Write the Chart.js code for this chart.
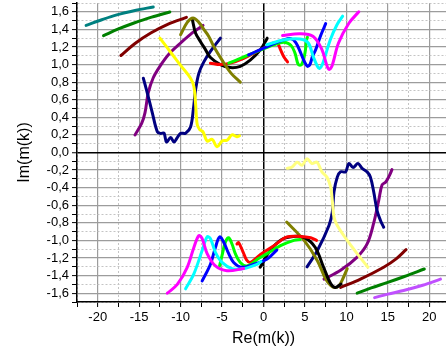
<!DOCTYPE html>
<html><head><meta charset="utf-8">
<script src="https://cdn.jsdelivr.net/npm/chart.js@4/dist/chart.umd.min.js"></script>
<style>html,body{margin:0;padding:0;overflow:hidden;background:#fff;}canvas{display:block;}</style>
</head><body>
<canvas id="c" width="450" height="354"></canvas>
<script>
// ---- axis ranges / titles ----
const xTitle = 'Re(m(k))';
const yTitle = 'Im(m(k))';
const xRange = [-22.5, 22.5];
const yRange = [-1.7, 1.7];

// ---- upper half-plane curves [Re, Im] ----
const tealTop = [[-21.4,1.445],[-19.5,1.51],[-17.7,1.565],[-15.5,1.615],[-13.3,1.655]];
const greenTop = [[-19.3,1.328],[-17.5,1.405],[-15.7,1.47],[-13.5,1.54],[-11.3,1.598]];
const darkRedTop = [[-17.2,1.103],[-15.5,1.24],[-13.6,1.358],[-11.5,1.46],[-9.3,1.537]];
const purpleTop = [[-15.5,0.2],[-14.7,0.33],[-14.3,0.45],[-13.9,0.68],[-13.3,0.85],[-12.5,0.98],[-11.4,1.12],[-10.0,1.245],[-8.6,1.36],[-7.3,1.445]];
const navyTop = [[-14.5,0.845],[-14.0,0.67],[-13.4,0.445],[-12.8,0.235],[-12.4,0.217],[-12.0,0.22],[-11.7,0.12],[-11.2,0.17],[-10.8,0.12],[-10.4,0.17],[-10.0,0.217],[-9.4,0.22],[-8.8,0.29],[-8.45,0.5],[-8.2,0.71],[-7.8,0.9],[-7.2,1.03],[-6.4,1.15],[-5.2,1.30]];
const yellowTop = [[-12.5,1.30],[-11.2,1.14],[-10.0,0.99],[-8.8,0.845],[-8.4,0.75],[-8.2,0.56],[-8.0,0.32],[-7.7,0.26],[-7.3,0.235],[-6.8,0.13],[-6.2,0.15],[-5.6,0.065],[-5.0,0.13],[-4.4,0.14],[-3.8,0.2],[-3.2,0.18],[-2.9,0.19]];
const oliveTop = [[-10.0,1.34],[-9.2,1.48],[-8.5,1.53],[-7.8,1.48],[-7.2,1.40],[-6.6,1.32],[-6.0,1.205],[-5.0,1.05],[-3.9,0.9],[-2.8,0.80]];
const blackTop = [[-8.6,1.52],[-8.2,1.36],[-7.6,1.26],[-7.0,1.17],[-6.4,1.08],[-5.2,1.0],[-4.0,0.966],[-2.8,0.98],[-1.6,1.05],[-0.36,1.17],[0.45,1.30]];
const redTop = [[-6.4,1.016],[-5.2,1.0],[-4.0,1.016],[-2.4,1.07],[-0.76,1.15],[0.45,1.205],[1.2,1.245],[1.7,1.24],[2.05,1.17],[2.45,1.09],[2.9,1.03]];
const limeTop = [[-4.2,1.016],[-2.8,1.07],[-0.76,1.15],[1.25,1.225],[2.45,1.255],[3.3,1.22],[3.8,1.13],[4.2,1.0],[4.6,1.0],[5.0,1.13],[5.2,1.28],[5.3,1.31]];
const blueTop = [[-1.8,1.11],[0.45,1.205],[2.45,1.28],[3.3,1.295],[3.9,1.25],[4.5,1.13],[4.9,1.04],[5.3,0.98],[5.6,1.0],[5.9,1.09],[6.3,1.17],[6.9,1.33],[7.5,1.465]];
const cyanTop = [[0.4,1.225],[2.4,1.28],[4.4,1.29],[5.4,1.245],[6.0,1.09],[6.5,0.98],[6.75,0.955],[7.1,1.0],[8.05,1.28],[8.85,1.45],[9.55,1.55]];
const magentaTop = [[2.3,1.33],[4.4,1.35],[6.0,1.32],[7.05,1.17],[7.6,1.0],[7.9,0.945],[8.25,0.98],[9.05,1.245],[10.3,1.47],[11.5,1.60]];

// ---- lower half-plane curves [Re, Im] ----
const violetBot = [[13.4,-1.65],[15.0,-1.61],[16.9,-1.57],[19.2,-1.51],[21.35,-1.44]];
const greenBot = [[11.3,-1.60],[13.0,-1.54],[14.9,-1.48],[17.0,-1.41],[19.4,-1.325]];
const darkRedBot = [[9.3,-1.535],[11.7,-1.44],[14.5,-1.305],[16.0,-1.21],[17.2,-1.105]];
const purpleBot = [[7.3,-1.44],[9.3,-1.34],[11.3,-1.19],[12.5,-1.04],[13.3,-0.80],[13.9,-0.545],[14.3,-0.37],[14.75,-0.335],[15.2,-0.26],[15.5,-0.195]];
const navyBot = [[5.25,-1.30],[6.5,-1.115],[7.9,-0.83],[8.3,-0.68],[8.5,-0.45],[8.9,-0.28],[9.3,-0.22],[9.9,-0.22],[10.3,-0.125],[10.8,-0.17],[11.4,-0.125],[11.9,-0.18],[12.5,-0.22],[12.9,-0.28],[13.3,-0.45],[13.7,-0.66],[14.1,-0.77],[14.5,-0.85]];
const yellowBot = [[2.85,-0.18],[3.45,-0.165],[4.05,-0.11],[4.65,-0.145],[5.25,-0.07],[5.85,-0.125],[6.45,-0.11],[7.05,-0.22],[7.65,-0.28],[8.1,-0.39],[8.3,-0.545],[8.5,-0.735],[8.9,-0.83],[10.1,-1.0],[11.3,-1.15],[12.6,-1.305]];
const oliveBot = [[2.8,-0.79],[4.9,-1.0],[6.5,-1.23],[7.5,-1.44],[8.1,-1.51],[8.6,-1.535],[9.1,-1.515],[9.6,-1.43],[10.1,-1.32]];
const blackBot = [[-0.4,-1.305],[0.8,-1.115],[2.2,-0.99],[3.6,-0.955],[5.0,-0.97],[6.25,-1.08],[7.25,-1.305],[8.05,-1.48],[8.65,-1.535],[9.35,-1.495]];
const redBot = [[-3.2,-1.04],[-3.0,-1.025],[-2.45,-1.135],[-2.05,-1.22],[-1.57,-1.25],[-0.36,-1.16],[1.25,-1.06],[2.85,-0.96],[4.45,-0.955],[5.7,-0.97],[6.4,-1.0]];
const limeBot = [[-5.3,-1.29],[-5.0,-1.17],[-4.6,-1.02],[-4.2,-0.97],[-3.8,-1.04],[-3.4,-1.15],[-2.8,-1.25],[-2.0,-1.29],[-0.5,-1.2],[0.45,-1.15],[2.05,-1.06],[3.66,-1.0],[4.4,-0.99]];
const blueBot = [[-7.4,-1.46],[-6.4,-1.27],[-5.8,-1.08],[-5.3,-0.96],[-4.8,-1.02],[-4.2,-1.15],[-3.6,-1.25],[-2.6,-1.305],[-1.17,-1.27],[0.45,-1.21],[1.6,-1.11]];
const cyanBot = [[-9.4,-1.55],[-8.4,-1.38],[-7.4,-1.115],[-6.8,-0.96],[-6.4,-0.98],[-5.8,-1.135],[-5.0,-1.25],[-3.8,-1.32],[-2.4,-1.32],[-0.76,-1.27],[-0.3,-1.24]];
const magentaBot = [[-11.6,-1.60],[-10.4,-1.50],[-9.2,-1.305],[-8.4,-1.08],[-7.8,-0.945],[-7.4,-0.98],[-6.8,-1.15],[-5.8,-1.29],[-4.4,-1.345],[-2.4,-1.32]];

// listed in drawing order (later = on top)
const series = [
  [tealTop,'#008080'],[greenTop,'#008000'],[darkRedTop,'#800000'],[purpleTop,'#800080'],
  [navyTop,'#000080'],[yellowTop,'#ffff00'],[blackTop,'#000000'],
  [redTop,'#ff0000'],[limeTop,'#00ff00'],[oliveTop,'#808000'],[blueTop,'#0000ff'],[cyanTop,'#00ffff'],[magentaTop,'#ff00ff'],
  [violetBot,'#c050ff'],[greenBot,'#008000'],[darkRedBot,'#800000'],[purpleBot,'#800080'],
  [navyBot,'#000080'],[yellowBot,'#ffff80'],[oliveBot,'#808000'],[blackBot,'#000000'],
  [redBot,'#ff0000'],[limeBot,'#00ff00'],[blueBot,'#0000ff'],[cyanBot,'#00ffff'],[magentaBot,'#ff00ff']
];

Chart.defaults.font.family = "'Liberation Sans', Arial, sans-serif";
Chart.defaults.color = '#000';

function isMajor(v, step){ const r = v/step; return Math.abs(r - Math.round(r)) < 1e-6; }
function gridColor(step){ return ctx => { if(!ctx.tick) return '#000'; const v = ctx.tick.value; if (Math.abs(v) < 1e-9) return '#000'; return isMajor(v, step) ? '#9c9c9c' : '#c4c4c4'; }; }
function gridWidth(step){ return ctx => { if(!ctx.tick) return 1; const v = ctx.tick.value; if (Math.abs(v) < 1e-9) return 1.5; return isMajor(v, step) ? 1.2 : 1; }; }
function gridDash(step){ return ctx => { if(!ctx.tick) return []; const v = ctx.tick.value; return (Math.abs(v) < 1e-9 || isMajor(v, step)) ? [] : [2,2]; }; }

new Chart(document.getElementById('c'), {
  type: 'scatter',
  data: { datasets: series.map(([pts, col], i) => ({
    data: pts.map(p => ({x: p[0], y: p[1]})),
    order: -i,
    showLine: true, borderColor: col, backgroundColor: col, borderWidth: 3,
    pointRadius: 0, tension: 0.35, fill: false, borderCapStyle: 'round', borderJoinStyle: 'round'
  })) },
  options: {
    responsive: false, animation: false,
    layout: { padding: { top: 3, right: 0, left: 0, bottom: 0 } },
    plugins: { legend: { display: false }, tooltip: { enabled: false } },
    scales: {
      x: {
        type: 'linear', min: xRange[0], max: xRange[1],
        ticks: { stepSize: 2.5, autoSkip: false, maxRotation: 0, font: { size: 13 }, padding: 3,
          callback: v => isMajor(v, 5) ? String(Math.round(v)) : '' },
        grid: { color: gridColor(5), lineWidth: gridWidth(5), tickColor: '#000', tickLength: 5, tickWidth: 1, tickBorderDash: [] },
        border: { display: true, color: '#000', width: 1.5, dash: gridDash(5) },
        title: { display: true, text: xTitle, font: { size: 16 }, padding: { top: 0, bottom: 6 } },
        afterFit: s => { s.height = 52; s.paddingLeft = 0; s.paddingRight = 0; }
      },
      y: {
        type: 'linear', min: yRange[0], max: yRange[1],
        ticks: { stepSize: 0.1, autoSkip: false, font: { size: 13 }, padding: 3,
          callback: v => { const k = Math.round(v*10); return (k % 2 === 0) ? (k/10).toFixed(1).replace('.', ',') : ''; } },
        grid: { color: gridColor(0.2), lineWidth: gridWidth(0.2), tickColor: '#000', tickLength: 5, tickWidth: 1, tickBorderDash: [] },
        border: { display: true, color: '#000', width: 1.5, dash: gridDash(0.2) },
        title: { display: true, text: yTitle, font: { size: 16 }, padding: { top: 15, bottom: 0 } },
        afterFit: s => { s.width = 77; s.paddingTop = 0; s.paddingBottom = 0; }
      }
    }
  }
});
</script>
</body></html>
